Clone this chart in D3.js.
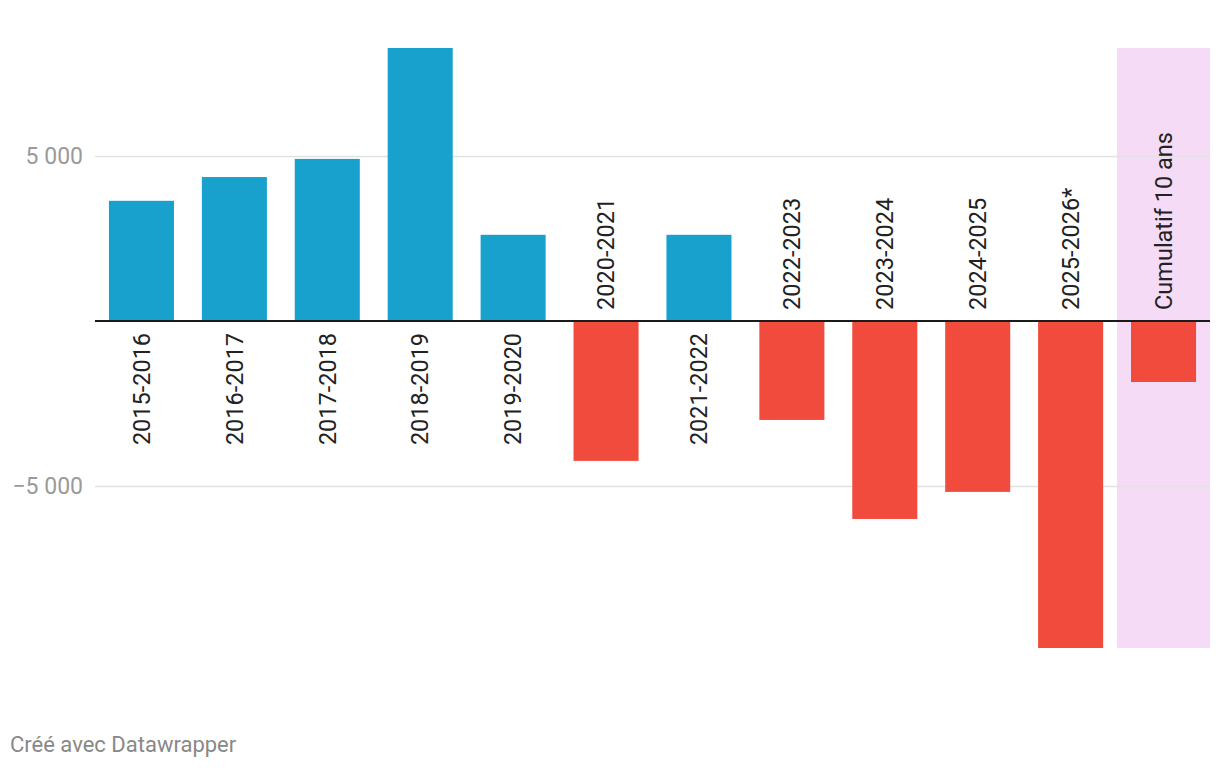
<!DOCTYPE html>
<html>
<head>
<meta charset="utf-8">
<script src="https://cdn.jsdelivr.net/npm/d3@7"></script>
<style>
body{margin:0;background:#fff;font-family:Roboto,sans-serif;}
</style>
</head>
<body>
<svg width="1220" height="768"></svg>
<script>
var categories = ["2015-2016","2016-2017","2017-2018","2018-2019","2019-2020","2020-2021","2021-2022","2022-2023","2023-2024","2024-2025","2025-2026*","Cumulatif 10 ans"];
var values = [3640, 4360, 4910, 8270, 2610, -4240, 2610, -3000, -6000, -5180, -9910, -1850];
var tickValues = [-5000, 5000];
var highlighted = ["Cumulatif 10 ans"];

var margin = {left:95, right:10, top:48, bottom:120};
var width = 1220;
var height = 768;

var svg = d3.select('svg');

var xScale = d3.scaleBand()
.domain(categories)
.range([margin.left, width-margin.right])
.paddingInner(0.3)
.paddingOuter(0.15);

var yScale = d3.scaleLinear()
.domain([d3.min(values), d3.max(values)])
.range([648, margin.top]);

// highlight band
svg.selectAll('rect.hl')
.data(highlighted)
.enter()
.append('rect')
.attr('class','hl')
.attr('x', function(d){ return xScale(d) - xScale.step()*xScale.paddingInner()/2; })
.attr('width', xScale.step())
.attr('y', yScale(d3.max(values)))
.attr('height', yScale(d3.min(values)) - yScale(d3.max(values)))
.attr('fill', '#f5dbf5');

// grid
var yaxis = d3.axisLeft(yScale)
.tickValues(tickValues)
.tickSize(-(width-margin.right-margin.left))
.tickFormat(function(d){ return d3.format(",")(d).replace(/,/g," ").replace("-","\u2212"); });

var g = svg.append('g')
.attr('transform','translate('+margin.left+',0)')
.call(yaxis);
g.select('.domain').remove();
g.selectAll('.tick line').attr('stroke','#e2e2e2').attr('stroke-width',1.5);
g.selectAll('.tick text')
.attr('x', -12)
.attr('fill','#9a9a9a')
.style('font-family','Roboto')
.style('font-size','23px');

// bars
svg.selectAll('rect.bar')
.data(values)
.enter()
.append('rect')
.attr('class','bar')
.attr('x', function(d,i){ return xScale(categories[i]); })
.attr('width', xScale.bandwidth())
.attr('y', function(d){ return d > 0 ? yScale(d) : yScale(0); })
.attr('height', function(d){ return Math.abs(yScale(d) - yScale(0)); })
.attr('fill', function(d){ return d > 0 ? '#18a1cd' : '#f04b3c'; });

// zero line
svg.append('line')
.attr('x1', margin.left)
.attr('x2', width-margin.right)
.attr('y1', yScale(0))
.attr('y2', yScale(0))
.attr('stroke', '#1a1a1a')
.attr('stroke-width', 2);

// category labels
svg.selectAll('text.lbl')
.data(values)
.enter()
.append('text')
.attr('class','lbl')
.attr('transform', function(d,i){
	var x = xScale(categories[i]) + xScale.bandwidth()/2;
	var y = d > 0 ? yScale(0) + 12 : yScale(0) - 11;
	return 'translate('+x+','+y+') rotate(-90)';
})
.attr('text-anchor', function(d){ return d > 0 ? 'end' : 'start'; })
.attr('dy', '0.35em')
.attr('fill', '#222')
.style('font-size','23.5px')
.text(function(d,i){ return categories[i]; });

svg.append('text')
.attr('x', 10)
.attr('y', 752)
.attr('fill', '#888')
.style('font-size','22px')
.text('Créé avec Datawrapper');
</script>
</body>
</html>
